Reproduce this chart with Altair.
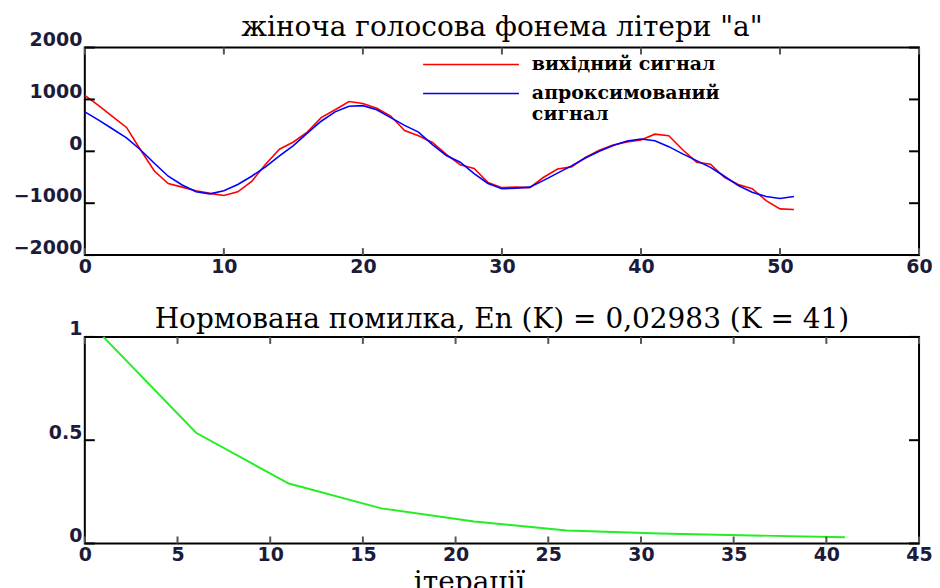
import altair as alt
import pandas as pd

# ---------------- data ----------------
samples = list(range(52))
original = [1080, 880, 670, 460, 30, -380, -620, -690, -760, -810,
            -850, -780, -580, -250, 40, 180, 370, 650, 800, 960,
            920, 830, 680, 400, 300, 170, -60, -260, -330, -600,
            -700, -690, -700, -500, -340, -300, -120, 20, 120, 180,
            220, 330, 300, 30, -210, -250, -500, -640, -720, -950,
            -1110, -1120]
approx = [760, 600, 430, 260, 30, -230, -480, -650, -780, -820,
          -760, -640, -480, -300, -90, 110, 350, 580, 760, 870,
          880, 800, 650, 500, 370, 130, -80, -210, -430, -620,
          -720, -710, -690, -560, -420, -280, -130, 0, 110, 200,
          237, 205, 90, -50, -180, -310, -480, -660, -790, -870,
          -910, -870]
series_names = ["вихідний сигнал", "апроксимований сигнал"]
series_colors = ["#ff0000", "#0000ff"]

iterations = [1, 6, 11, 16, 21, 26, 31, 36, 41]
norm_error = [1.0, 0.536, 0.29, 0.17, 0.106, 0.063, 0.048, 0.039, 0.0298]

sig_xticks = [0, 10, 20, 30, 40, 50, 60]
sig_yticks = [-2000, -1000, 0, 1000, 2000]
err_xticks = [0, 5, 10, 15, 20, 25, 30, 35, 40, 45]
err_yticks = [0, 0.5, 1]

title_top = 'жіноча голосова фонема літери "а"'
title_bottom = "Нормована помилка, En (K) = 0,02983 (K = 41)"
xlabel_bottom = "ітерації"

# ---------------- style ----------------
W = 836
H1 = 208
H2 = 207
LBL_FONT = "DejaVu Sans"
TXT_FONT = "DejaVu Serif"
LBL_COLOR = "#1c1c3a"
LBL_SIZE = 19


def x_axis(values, title=None, **kw):
    return alt.Axis(values=values, ticks=False, grid=False, domain=False,
                    labelFont=LBL_FONT, labelFontSize=LBL_SIZE, labelFontWeight="bold",
                    labelColor=LBL_COLOR, labelPadding=2, labelFlush=False,
                    title=title, **kw)


def y_axis(values, fmt):
    return alt.Axis(values=values, ticks=False, grid=False, domain=False,
                    labelFont=LBL_FONT, labelFontSize=LBL_SIZE, labelFontWeight="bold",
                    labelColor=LBL_COLOR, labelPadding=3, labelOffset=-8,
                    labelFlush=False, format=fmt, title=None)


def tick_layers(xticks, yticks, xs, ys, xax, yax, h):
    xt = pd.DataFrame({"t": xticks})
    yt = pd.DataFrame({"t": yticks})
    bx = alt.Chart(xt).mark_rule(color="#555555", strokeWidth=2).encode(
        x=alt.X("t:Q", scale=xs, axis=xax), y=alt.value(h), y2=alt.value(h - 7))
    tx = alt.Chart(xt).mark_rule(color="#555555", strokeWidth=2).encode(
        x=alt.X("t:Q", scale=xs, axis=xax), y=alt.value(0), y2=alt.value(7))
    ly = alt.Chart(yt).mark_rule(color="#000000", strokeWidth=2).encode(
        y=alt.Y("t:Q", scale=ys, axis=yax), x=alt.value(0), x2=alt.value(10))
    ry = alt.Chart(yt).mark_rule(color="#000000", strokeWidth=2).encode(
        y=alt.Y("t:Q", scale=ys, axis=yax), x=alt.value(W), x2=alt.value(W - 10))
    return [bx, tx, ly, ry]


# ---------------- top chart ----------------
sig = pd.DataFrame({
    "n": samples + samples,
    "v": original + approx,
    "s": [series_names[0]] * len(samples) + [series_names[1]] * len(samples),
})
xs1 = alt.Scale(domain=[0, 60], nice=False, zero=False)
ys1 = alt.Scale(domain=[-2000, 2000], nice=False, zero=False)
xax1 = x_axis(sig_xticks)
yax1 = y_axis(sig_yticks, "d")

lines = alt.Chart(sig).mark_line(strokeWidth=1.6).encode(
    x=alt.X("n:Q", scale=xs1, axis=xax1),
    y=alt.Y("v:Q", scale=ys1, axis=yax1),
    color=alt.Color("s:N", scale=alt.Scale(domain=series_names, range=series_colors),
                    legend=alt.Legend(
                        title=None, orient="none", legendX=374, legendY=4,
                        symbolType="M-4,0H4", symbolSize=576, symbolStrokeWidth=1.6,
                        labelFont=TXT_FONT, labelFontSize=19, labelFontWeight="bold",
                        labelColor="#000000", labelOffset=48, rowPadding=6,
                        labelLimit=400,
                        labelExpr="datum.label == 'апроксимований сигнал' ? ['апроксимований', 'сигнал'] : datum.label")),
)

top = alt.layer(lines, *tick_layers(sig_xticks, sig_yticks, xs1, ys1, xax1, yax1, H1)).properties(
    width=W, height=H1,
    title=alt.TitleParams(title_top, font=TXT_FONT, fontSize=28, fontWeight="normal",
                          color="#000000", offset=-11, frame="group"),
)

# ---------------- bottom chart ----------------
err = pd.DataFrame({"k": iterations, "e": norm_error})
xs2 = alt.Scale(domain=[0, 45], nice=False, zero=False)
ys2 = alt.Scale(domain=[0, 1], nice=False, zero=False)
xax2 = x_axis(err_xticks, title=xlabel_bottom, titleFont=TXT_FONT,
              titleFontSize=28, titleFontWeight="normal", titleColor="#000000",
              titlePadding=4, titleX=385)
yax2 = y_axis(err_yticks, "")

eline = alt.Chart(err).mark_line(color="#22ee22", strokeWidth=2).encode(
    x=alt.X("k:Q", scale=xs2, axis=xax2),
    y=alt.Y("e:Q", scale=ys2, axis=yax2),
)

bottom = alt.layer(eline, *tick_layers(err_xticks, err_yticks, xs2, ys2, xax2, yax2, H2)).properties(
    width=W, height=H2,
    title=alt.TitleParams(title_bottom, font=TXT_FONT, fontSize=28, fontWeight="normal",
                          color="#000000", offset=-14, frame="group"),
)

chart = alt.vconcat(top, bottom, spacing=28).properties(
    padding={"left": 12, "top": 12, "right": 6, "bottom": 0},
    background="#ffffff",
).configure_view(stroke="#000000", strokeWidth=2)

chart.save("out.html", embed_options={"renderer": "svg", "actions": False})
